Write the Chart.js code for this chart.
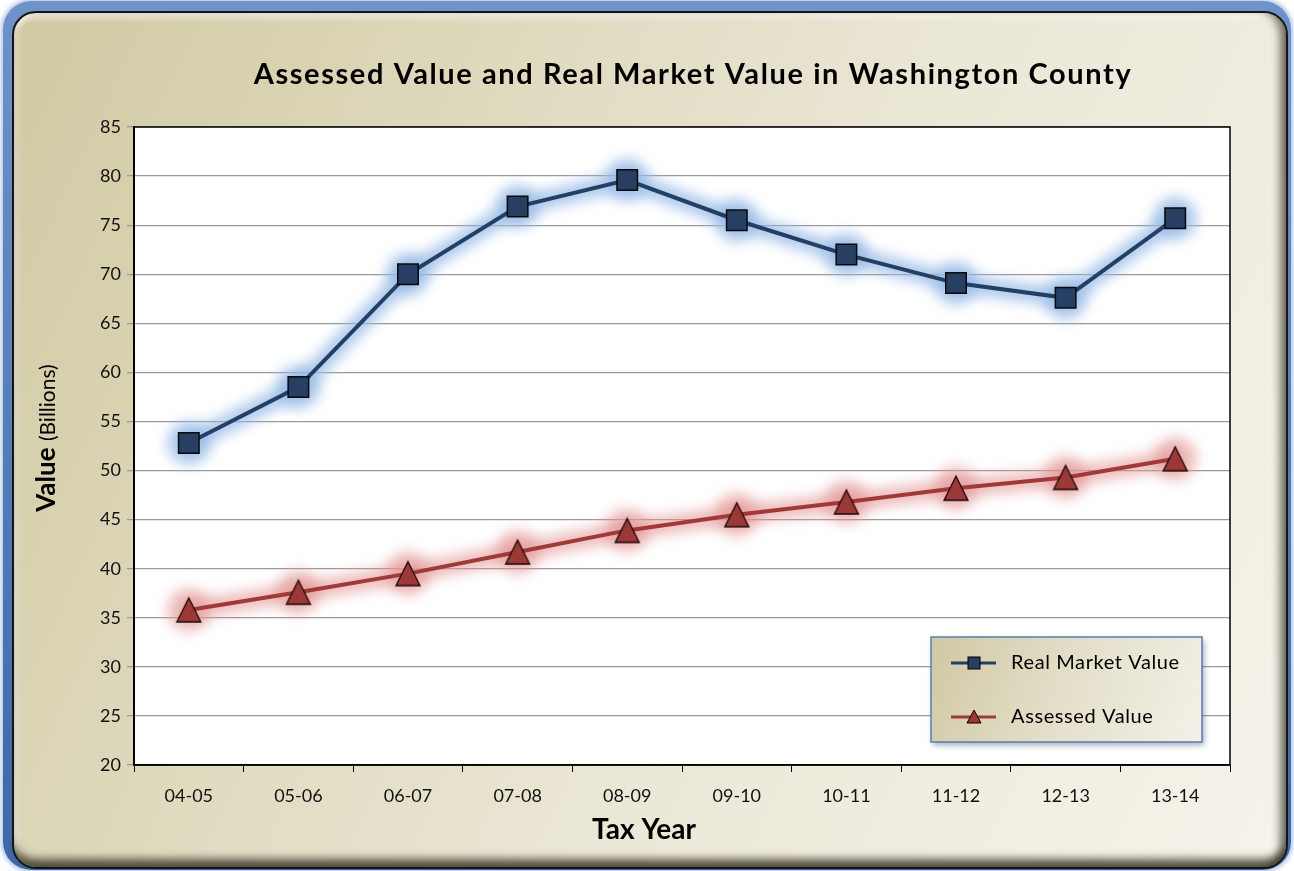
<!DOCTYPE html>
<html>
<head>
<meta charset="utf-8">
<script src="https://cdn.jsdelivr.net/npm/chart.js@4"></script>
<style>
    body { margin: 0; background: #ffffff; }
    #frame {
        position: absolute; left: 3px; top: 1px; width: 1288px; height: 869px;
        border-radius: 28px;
        background: linear-gradient(to bottom, #6f93c8, #3f67a6);
        box-shadow: 0 0 4px 2px rgba(110, 150, 210, 0.55);
    }
    #panel {
        position: absolute; left: 9px; top: 10px; width: 1272px; height: 854px;
        border: 2px solid #151515;
        border-radius: 24px;
        background: linear-gradient(115deg, #d1c9a2 0%, #dfd9bd 30%, #ece8d8 60%, #f5f3ea 100%);
        box-shadow: inset 0 -12px 9px -4px rgba(50, 45, 30, 0.8),
                    inset -10px 0 8px -4px rgba(50, 45, 30, 0.65),
                    inset 0 7px 6px -3px rgba(255, 255, 255, 0.75),
                    inset 6px 0 6px -3px rgba(255, 255, 255, 0.5);
    }
    #myChart { position: absolute; left: 0; top: 0; }
</style>
</head>
<body>
<div id="frame"><div id="panel"></div></div>
<canvas id="myChart" width="1294" height="871"></canvas>
<script>
const taxYears = ["04-05", "05-06", "06-07", "07-08", "08-09", "09-10", "10-11", "11-12", "12-13", "13-14"];
const realMarketValue = [52.8, 58.5, 70.0, 76.9, 79.6, 75.5, 72.0, 69.1, 67.6, 75.7];
const assessedValue = [35.8, 37.6, 39.5, 41.7, 43.9, 45.5, 46.8, 48.2, 49.3, 51.2];
const yTicks = [20, 25, 30, 35, 40, 45, 50, 55, 60, 65, 70, 75, 80, 85];

const chartTitle = "Assessed Value and Real Market Value in Washington County";
const fontName = "Lato, 'Open Sans', sans-serif";

const glowColors = ["rgba(150, 186, 230, 0.85)", "rgba(228, 150, 150, 0.7)"];

// triangle marker drawn centred on its point (not on the centroid)
function makeTriangle(fill) {
    const c = document.createElement("canvas");
    c.width = 28;
    c.height = 28;
    const t = c.getContext("2d");
    t.fillStyle = fill;
    t.strokeStyle = "#1a0a0a";
    t.lineWidth = 1.3;
    t.beginPath();
    t.moveTo(14, 2);
    t.lineTo(26, 26);
    t.lineTo(2, 26);
    t.closePath();
    t.fill();
    t.stroke();
    return c;
}

// white plot area, glow, frame, titles and legend
const decor = {
    id: "decor",
    beforeDraw(chart) {
        const {ctx, chartArea: a} = chart;
        ctx.save();
        ctx.fillStyle = "#ffffff";
        ctx.fillRect(a.left, a.top, a.right - a.left, a.bottom - a.top);
        ctx.restore();
    },
    beforeDatasetDraw(chart, args) {
        const ctx = chart.ctx;
        const pts = args.meta.data;
        ctx.save();
        ctx.filter = "blur(7px)";
        ctx.strokeStyle = glowColors[args.index];
        ctx.fillStyle = glowColors[args.index];
        ctx.lineWidth = 17;
        ctx.lineJoin = "round";
        ctx.beginPath();
        pts.forEach((p, i) => i ? ctx.lineTo(p.x, p.y) : ctx.moveTo(p.x, p.y));
        ctx.stroke();
        pts.forEach(p => {
            ctx.beginPath();
            ctx.arc(p.x, p.y, 21, 0, Math.PI * 2);
            ctx.fill();
        });
        ctx.restore();
    },
    afterDraw(chart) {
        const {ctx, chartArea: a} = chart;
        ctx.save();

        // plot border
        ctx.strokeStyle = "#000";
        ctx.lineWidth = 1.5;
        ctx.strokeRect(a.left, a.top, a.right - a.left, a.bottom - a.top);

        // chart title
        ctx.fillStyle = "#000";
        ctx.font = "bold 29px " + fontName;
        ctx.letterSpacing = "1.6px";
        ctx.textAlign = "center";
        ctx.textBaseline = "middle";
        ctx.fillText(chartTitle, 693, 75);
        ctx.letterSpacing = "0px";

        // x axis title
        ctx.font = "bold 28px " + fontName;
        ctx.fillText("Tax Year", 644, 830);

        // y axis title, rotated
        ctx.save();
        ctx.translate(47, 438);
        ctx.rotate(-Math.PI / 2);
        ctx.font = "bold 26px " + fontName;
        const w1 = ctx.measureText("Value ").width;
        ctx.font = "21px " + fontName;
        const w2 = ctx.measureText("(Billions)").width;
        const startX = -(w1 + w2) / 2;
        ctx.textAlign = "left";
        ctx.font = "bold 26px " + fontName;
        ctx.fillText("Value", startX, 0);
        ctx.font = "21px " + fontName;
        ctx.fillText("(Billions)", startX + w1, 1);
        ctx.restore();

        // legend box
        const bx = a.right - 299, by = a.bottom - 128, bw = 271, bh = 105;
        ctx.save();
        ctx.shadowColor = "rgba(40, 60, 100, 0.45)";
        ctx.shadowBlur = 6;
        ctx.shadowOffsetX = 2;
        ctx.shadowOffsetY = 3;
        const g = ctx.createLinearGradient(bx, by, bx + bw, by + bh);
        g.addColorStop(0, "#d0c8a4");
        g.addColorStop(0.5, "#e4dfca");
        g.addColorStop(1, "#f3f1e8");
        ctx.fillStyle = g;
        ctx.fillRect(bx, by, bw, bh);
        ctx.restore();
        ctx.strokeStyle = "#5a7db0";
        ctx.lineWidth = 1.5;
        ctx.strokeRect(bx, by, bw, bh);

        chart.data.datasets.forEach((ds, i) => {
            const ly = by + 26 + i * 54;
            ctx.strokeStyle = ds.borderColor;
            ctx.lineWidth = 3;
            ctx.beginPath();
            ctx.moveTo(bx + 20, ly);
            ctx.lineTo(bx + 65, ly);
            ctx.stroke();
            ctx.fillStyle = ds.pointBackgroundColor;
            ctx.strokeStyle = "#000";
            ctx.lineWidth = 1;
            if (i === 0) {
                ctx.fillRect(bx + 37, ly - 6, 12, 12);
                ctx.strokeRect(bx + 37, ly - 6, 12, 12);
            } else {
                ctx.beginPath();
                ctx.moveTo(bx + 43, ly - 7);
                ctx.lineTo(bx + 50, ly + 6);
                ctx.lineTo(bx + 36, ly + 6);
                ctx.closePath();
                ctx.fill();
                ctx.stroke();
            }
            ctx.fillStyle = "#000";
            ctx.font = "20px " + fontName;
            ctx.letterSpacing = "0.6px";
            ctx.textAlign = "left";
            ctx.textBaseline = "middle";
            ctx.fillText(ds.label, bx + 80, ly);
            ctx.letterSpacing = "0px";
        });

        ctx.restore();
    }
};

const ctx = document.getElementById("myChart");

let myChart = new Chart(ctx, {
    type: "line",
    data: {
        labels: taxYears,
        datasets: [{
            label: "Real Market Value",
            data: realMarketValue,
            borderColor: "#243f62",
            borderWidth: 4,
            pointStyle: "rect",
            pointRadius: 14.5,
            pointHoverRadius: 14.5,
            pointBackgroundColor: "#263f62",
            pointBorderColor: "#0a0a0a",
            pointBorderWidth: 1.5,
            tension: 0
        }, {
            label: "Assessed Value",
            data: assessedValue,
            borderColor: "#a03a38",
            borderWidth: 4,
            pointStyle: makeTriangle("#9c3836"),
            pointRadius: 14,
            pointHoverRadius: 14,
            pointBackgroundColor: "#9c3836",
            tension: 0
        }]
    },
    options: {
        responsive: false,
        animation: false,
        layout: {padding: {top: 127, right: 64, bottom: 0, left: 0}},
        plugins: {
            legend: {display: false},
            tooltip: {enabled: false}
        },
        scales: {
            x: {
                offset: true,
                grid: {offset: true, drawOnChartArea: false, color: "#000", tickLength: 7, lineWidth: 1},
                border: {color: "#000", width: 1.5},
                ticks: {color: "#111", font: {family: fontName, size: 18}, padding: 13, maxRotation: 0},
                afterFit: (scale) => { scale.height = 106; }
            },
            y: {
                min: 20,
                max: 85,
                afterBuildTicks: (scale) => { scale.ticks = yTicks.map(v => ({value: v})); },
                grid: {color: "#9a9a9a", lineWidth: 1.3, tickLength: 7},
                border: {color: "#000", width: 2},
                ticks: {color: "#111", font: {family: fontName, size: 18}, padding: 6},
                afterFit: (scale) => { scale.width = 134; }
            }
        }
    },
    plugins: [decor]
});
</script>
</body>
</html>
